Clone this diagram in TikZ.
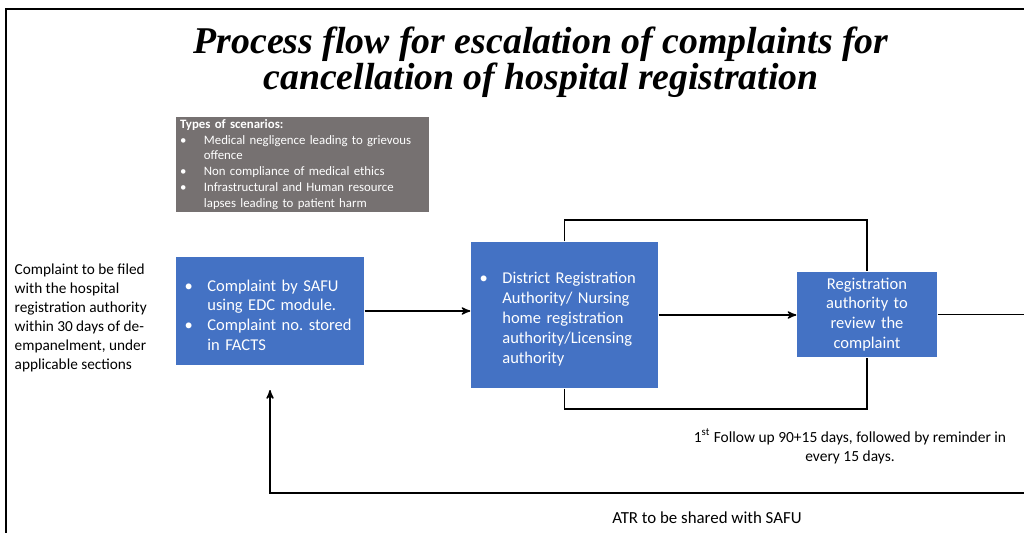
\documentclass[tikz,border=0pt]{standalone}
\usepackage{fontspec}
\setmainfont{Carlito}
\newfontfamily\titlefont{Liberation Serif}
\usetikzlibrary{arrows}

\definecolor{boxblue}{HTML}{4472C4}
\definecolor{boxgray}{HTML}{767171}

\newcommand{\bitem}[2][13pt]{\par\hangindent=#1\hangafter=1\noindent\makebox[#1][l]{\textbullet}#2\par}

\begin{document}
\begin{tikzpicture}[
    x = 0.02cm,
    y = -0.02cm,
    >=stealth',
    line width = 0.8pt,
    blk/.style = {
      fill = boxblue,
      text = white,
      font = \fontsize{9.4}{11.3}\selectfont,
      inner xsep = 0.17cm,
      inner ysep = 2pt
    },
    note/.style = {
      font = \fontsize{8.8}{10.8}\selectfont,
      align = center,
      inner sep = 0pt
    }
  ]
  \useasboundingbox (0,0) rectangle (1024,533);

  \draw[line width = 1.4pt] (6,533) -- (6,9) -- (1024,9);

  \node (title) at (541,62) [align = center,
    font = \titlefont\fontsize{21.5}{18.6}\selectfont\bfseries\itshape]
    {Process flow for escalation of complaints for\\
     cancellation of hospital registration};

  \node (scen) at (302.5,164.5) [fill = boxgray, text = white,
    minimum width = 5.06cm, minimum height = 1.9cm,
    text width = 4.9cm, inner xsep = 0.08cm, inner ysep = 1pt,
    font = \fontsize{7.3}{9}\selectfont, align = left]
    {\textbf{Types of scenarios:}
     \bitem[13.6pt]{Medical negligence leading to grievous\newline offence}
     \bitem[13.6pt]{Non compliance of medical ethics}
     \bitem[13.6pt]{Infrastructural and Human resource\newline lapses leading to patient harm}};

  \node (filing) at (14,318) [anchor = west, align = left, inner sep = 0pt,
    font = \fontsize{8.7}{10.8}\selectfont]
    {Complaint to be filed\\with the hospital\\registration authority\\
     within 30 days of de-\\empanelment, under\\applicable sections};

  \node (safu) at (270,311) [blk, minimum width = 3.76cm,
    minimum height = 2.16cm, text width = 3.42cm, align = left]
    {\bitem{Complaint by SAFU\newline using EDC module.}
     \bitem{Complaint no.\ stored\newline in FACTS}};

  \node (dra) at (564.5,315) [blk, minimum width = 3.74cm,
    minimum height = 2.92cm, text width = 3.4cm, align = left]
    {\bitem{District Registration\newline Authority/ Nursing\newline
     home registration\newline authority/Licensing\newline authority}};

  \node (review) at (867,314.5) [blk, minimum width = 2.8cm,
    minimum height = 1.7cm, text width = 2.46cm, align = center]
    {Registration\\authority to\\review the\\complaint};

  \coordinate (outR) at (1024,316);
  \coordinate (loopT) at (700,220);
  \coordinate (loopB) at (700,409);
  \coordinate (retR) at (1024,493);
  \coordinate (retTip) at (270,390);

  \draw[->] (safu.east) -- (dra.west |- safu.east);
  \draw[->] (dra.east) -- (review.west |- dra.east);
  \draw (review.east) -- (review.east -| outR);

  \draw (dra.north) |- (loopT) -| (review.north);
  \draw (dra.south) |- (loopB) -| (review.south);

  \draw[->] (retR) -| (retTip);

  \node (follow) at (850,446) [note]
    {1\textsuperscript{st} Follow up 90+15 days, followed by reminder in\\
     every 15 days.};
  \node (atr) at (707,518) [note, font = \fontsize{9.6}{11}\selectfont]
    {ATR to be shared with SAFU};
\end{tikzpicture}
\end{document}
